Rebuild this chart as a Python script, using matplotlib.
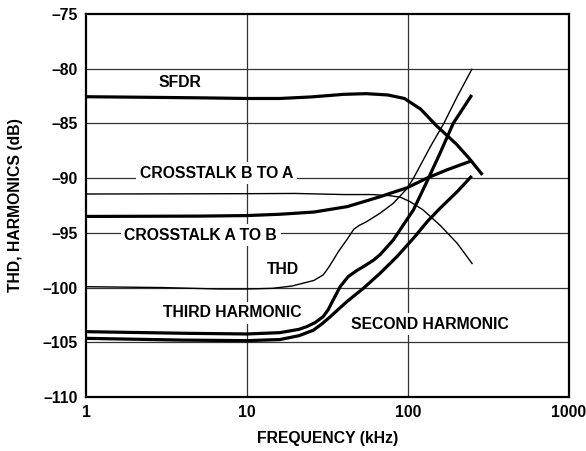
import matplotlib
matplotlib.use("Agg")
import matplotlib.pyplot as plt

plt.rcParams['font.family'] = ['Liberation Sans', 'DejaVu Sans']
plt.rcParams['font.weight'] = 'bold'

# ---- data (frequency in kHz, level in dB) ----
sfdr_f = [1, 2, 5, 10, 16, 25, 40, 55, 75, 95, 120, 150, 200, 240, 290]
sfdr_db = [-82.56, -82.6, -82.66, -82.72, -82.72, -82.58, -82.34, -82.28, -82.4,
           -82.72, -83.7, -85.2, -86.9, -88.2, -89.7]

xab_f = [1, 5, 10, 16, 26, 42, 67, 77, 98, 131, 174, 250]
xab_db = [-93.5, -93.47, -93.42, -93.3, -93.1, -92.6, -91.7, -91.4, -90.9, -90.0, -89.25, -88.4]

xba_f = [1, 10, 20, 40, 60, 77, 90, 103, 124, 158, 202, 250]
xba_db = [-91.45, -91.42, -91.4, -91.5, -91.5, -91.6, -91.75, -92.15, -92.9, -94.3, -95.95, -97.8]

thd_f = [1, 3, 6.7, 10, 14.4, 19, 23, 26, 29.7, 32, 34.3, 37, 41.6, 46, 50, 55, 67, 81,
         98, 108, 138, 167, 202, 249]
thd_db = [-99.92, -100.0, -100.13, -100.13, -100.07, -99.86, -99.55, -99.35, -98.85,
          -98.2, -97.5, -96.7, -95.65, -94.68, -94.3, -94.0, -93.21, -92.3, -91.0,
          -90.02, -87.1, -84.99, -82.56, -80.06]

h3_f = [1, 4.2, 10, 16, 21, 23.5, 26.5, 29.7, 32, 34.3, 37.9, 42.5, 48, 54, 61, 67,
        81, 98, 108, 131, 158, 191, 249]
h3_db = [-104.03, -104.18, -104.24, -104.12, -103.82, -103.57, -103.2, -102.66, -102.0,
         -101.13, -99.92, -99.0, -98.45, -98.0, -97.5, -97.0, -95.65, -93.83, -92.91,
         -90.32, -87.73, -84.99, -82.4]

h2_f = [1, 4, 10, 16, 21, 25.8, 29, 32.7, 41.6, 52.8, 67, 85, 108, 133, 158, 202, 249]
h2_db = [-104.64, -104.8, -104.85, -104.75, -104.4, -103.9, -103.35, -102.7, -101.3,
         -100.07, -98.7, -97.2, -95.5, -93.9, -92.76, -91.24, -89.8]

y_ticks = [-110, -105, -100, -95, -90, -85, -80, -75]
x_ticks = [1, 10, 100, 1000]
x_tick_labels = ['1', '10', '100', '1000']

labels = ['SFDR', 'CROSSTALK B TO A', 'CROSSTALK A TO B', 'THD',
          'THIRD HARMONIC', 'SECOND HARMONIC']
label_pos = [(3.84, -81.3), (6.47, -89.56), (5.16, -95.2), (16.7, -98.39),
             (8.11, -102.3), (137, -103.33)]

FS = 11.3

fig = plt.figure(figsize=(5.86, 4.51), dpi=100)
ax = fig.add_axes([86/586, 1-397/451, (569-86)/586, (397-14)/451])
ax.set_xscale('log')
ax.set_xlim(1, 1000)
ax.set_ylim(-110, -75)

grid_col = '#333333'
for yv in y_ticks[1:-1]:
    ax.axhline(yv, color=grid_col, lw=0.9, zorder=1)
for xv in x_ticks[1:-1]:
    ax.axvline(xv, color=grid_col, lw=0.9, zorder=1)

thick = 2.3
thin = 1.0
ax.plot(sfdr_f, sfdr_db, color='black', lw=thick, zorder=3, solid_capstyle='butt')
ax.plot(xab_f, xab_db, color='black', lw=thick, zorder=3, solid_capstyle='butt')
ax.plot(xba_f, xba_db, color='black', lw=thin, zorder=3)
ax.plot(thd_f, thd_db, color='black', lw=thin, zorder=3)
ax.plot(h3_f, h3_db, color='black', lw=thick, zorder=3, solid_capstyle='butt')
ax.plot(h2_f, h2_db, color='black', lw=thick, zorder=3, solid_capstyle='butt')

for txt, (xx, yy) in zip(labels, label_pos):
    ax.text(xx, yy, txt, ha='center', va='center', fontsize=FS, fontweight='bold',
            zorder=2, bbox=dict(facecolor='white', edgecolor='none', pad=2.5))

ax.set_xticks(x_ticks)
ax.set_xticklabels(x_tick_labels)
ax.minorticks_off()
ax.set_yticks(y_ticks)
ax.set_yticklabels(['\u2013' + str(abs(v)) for v in y_ticks])
ax.tick_params(length=0, labelsize=FS, pad=6)
for lab in ax.get_xticklabels() + ax.get_yticklabels():
    lab.set_fontweight('bold')

for s in ax.spines.values():
    s.set_linewidth(1.6)
    s.set_zorder(4)

ax.set_xlabel('FREQUENCY (kHz)', fontsize=FS, fontweight='bold', labelpad=8)
ax.set_ylabel('THD, HARMONICS (dB)', fontsize=FS, fontweight='bold', labelpad=14)

fig.savefig('out.png', dpi=100)
